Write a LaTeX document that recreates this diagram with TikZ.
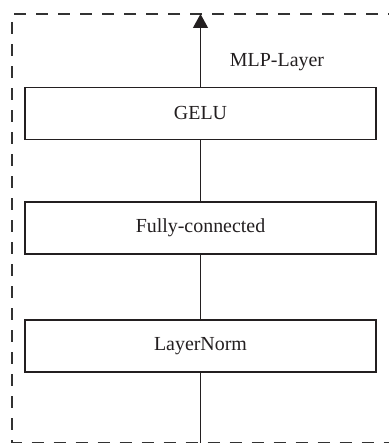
\documentclass[tikz,border=0pt]{standalone}
\usepackage{fontspec}
\setmainfont{Liberation Serif}
\usetikzlibrary{arrows.meta,positioning}
\definecolor{inkline}{RGB}{35,31,32}
\definecolor{frameline}{RGB}{50,50,50}
\tikzset{
  >={Triangle[length=14bp,width=15bp]},
  layerbox/.style={draw=inkline,line width=1.3bp,fill=white,minimum width=351bp,
    minimum height=52bp,inner sep=0pt,align=center,text=inkline,
    font=\fontsize{20}{24}\selectfont},
  link/.style={draw=inkline,line width=1.2bp},
  frame/.style={draw=frameline,line width=1.3bp,dash pattern=on 12bp off 10bp},
  tag/.style={font=\fontsize{20}{24}\selectfont,text=inkline},
}
\begin{document}
\begin{tikzpicture}[x=1bp,y=-1bp]
  \useasboundingbox (0,0) rectangle (388,444);
  % dashed block outline
  \draw[frame] (400,14) -- (12,14) -- (12,442.5) -- (400,442.5);
  \coordinate (in) at (200.5,442.5);
  \coordinate (out) at (200.5,14);
  \node[layerbox] (ln) at (200.5,346) {LayerNorm};
  \node[layerbox] (fc) at (200.5,228) {Fully-connected};
  \node[layerbox] (gelu) at (200.5,113.5) {GELU};
  \node[tag] (name) at (277,62) {MLP-Layer};
  \draw[link] (in) -- (ln);
  \draw[link] (ln) -- (fc);
  \draw[link] (fc) -- (gelu);
  \draw[link,->] (gelu) -- (out);
\end{tikzpicture}
\end{document}
